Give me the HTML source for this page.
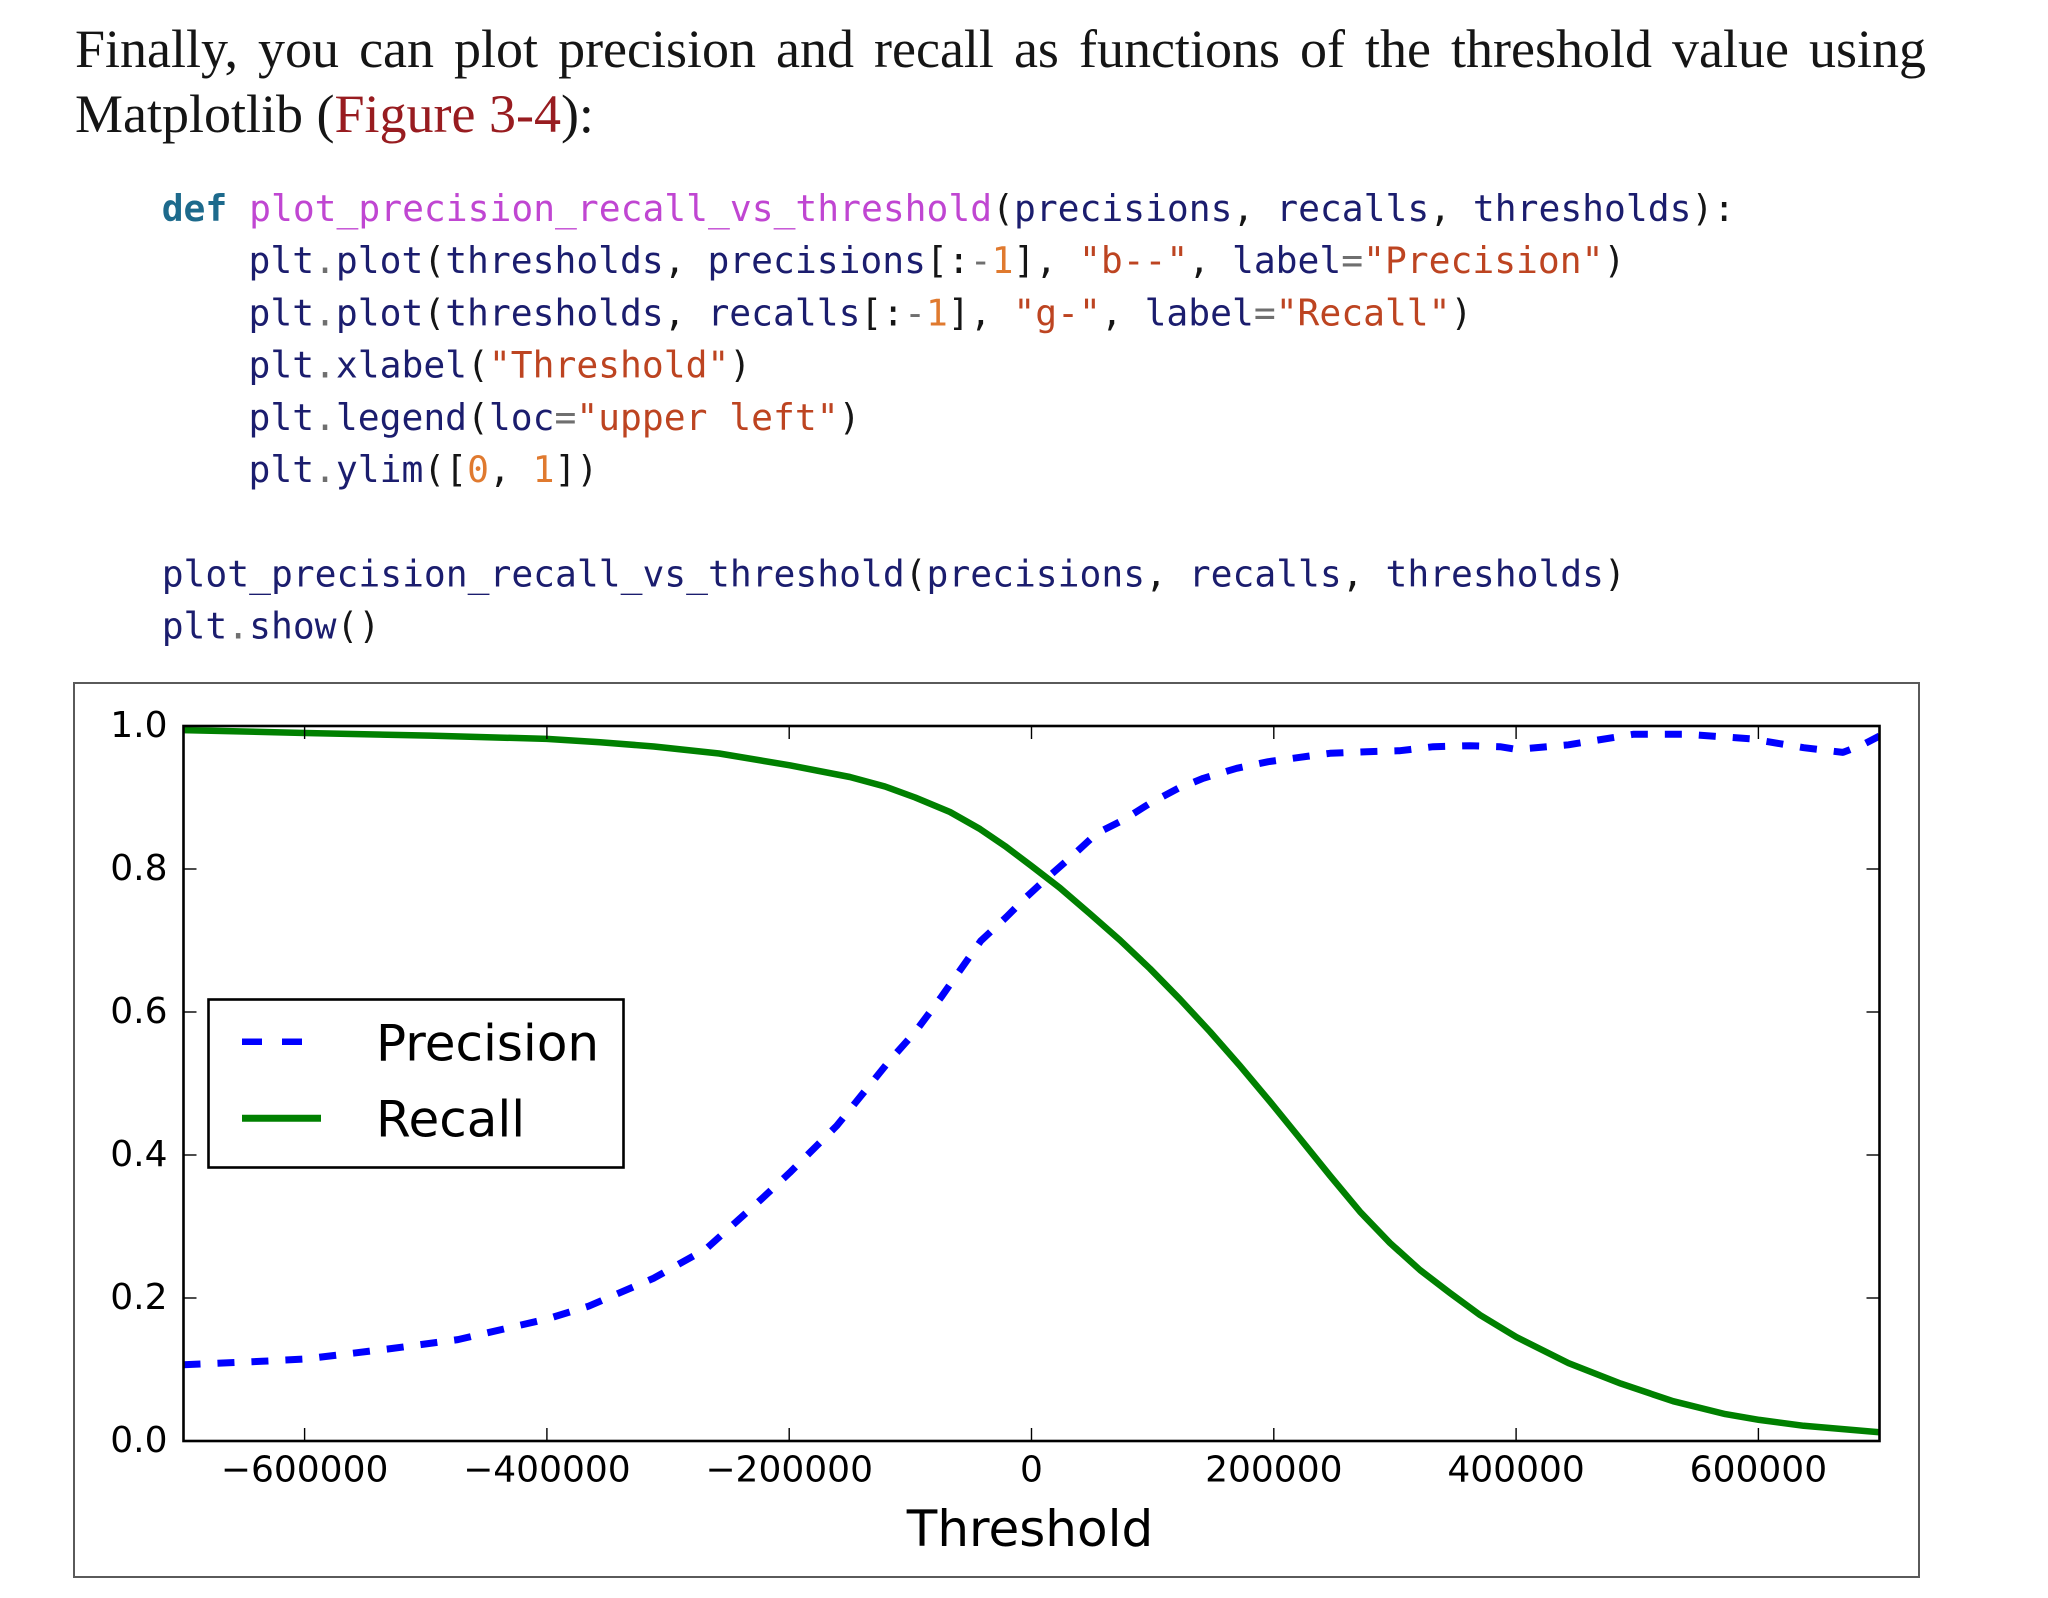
<!DOCTYPE html>
<html>
<head>
<meta charset="utf-8">
<style>
  html, body { margin:0; padding:0; background:#fff; }
  body { width:2048px; height:1598px; position:relative; overflow:hidden; }
  .prose { position:absolute; left:75px; font-family:"Liberation Serif", serif; font-size:54px; line-height:65px; color:#151515; }
  #l1 { top:17px; width:1851px; text-align:justify; text-align-last:justify; }
  #l2 { top:82px; }
  .red { color:#981c20; }
  svg { position:absolute; left:0; top:0; }
  .code { font-family:"DejaVu Sans Mono", "Liberation Mono", monospace; font-size:36.3px; white-space:pre; }
  .k { fill:#1d6a8c; font-weight:bold; }
  .f { fill:#c046d2; }
  .n { fill:#1b1d6e; }
  .p { fill:#151515; }
  .d { fill:#6f6f6f; }
  .s { fill:#bd4421; }
  .u { fill:#e07a2f; }
  .tick { font-family:"DejaVu Sans", sans-serif; font-size:36px; fill:#000; }
  .leg { font-family:"DejaVu Sans", sans-serif; font-size:50px; fill:#000; }
</style>
</head>
<body>
<div class="prose" id="l1">Finally, you can plot precision and recall as functions of the threshold value using</div>
<div class="prose" id="l2">Matplotlib (<span class="red">Figure 3-4</span>):</div>

<svg width="2048" height="1598" viewBox="0 0 2048 1598" xmlns="http://www.w3.org/2000/svg">
  <!-- code -->
  <text class="code" x="161.7" y="221"><tspan class="k">def</tspan><tspan class="p"> </tspan><tspan class="f">plot_precision_recall_vs_threshold</tspan><tspan class="p">(</tspan><tspan class="n">precisions</tspan><tspan class="p">, </tspan><tspan class="n">recalls</tspan><tspan class="p">, </tspan><tspan class="n">thresholds</tspan><tspan class="p">):</tspan></text>
  <text class="code" x="248.5" y="273.2"><tspan class="n">plt</tspan><tspan class="d">.</tspan><tspan class="n">plot</tspan><tspan class="p">(</tspan><tspan class="n">thresholds</tspan><tspan class="p">, </tspan><tspan class="n">precisions</tspan><tspan class="p">[:</tspan><tspan class="d">-</tspan><tspan class="u">1</tspan><tspan class="p">], </tspan><tspan class="s">"b--"</tspan><tspan class="p">, </tspan><tspan class="n">label</tspan><tspan class="d">=</tspan><tspan class="s">"Precision"</tspan><tspan class="p">)</tspan></text>
  <text class="code" x="248.5" y="325.4"><tspan class="n">plt</tspan><tspan class="d">.</tspan><tspan class="n">plot</tspan><tspan class="p">(</tspan><tspan class="n">thresholds</tspan><tspan class="p">, </tspan><tspan class="n">recalls</tspan><tspan class="p">[:</tspan><tspan class="d">-</tspan><tspan class="u">1</tspan><tspan class="p">], </tspan><tspan class="s">"g-"</tspan><tspan class="p">, </tspan><tspan class="n">label</tspan><tspan class="d">=</tspan><tspan class="s">"Recall"</tspan><tspan class="p">)</tspan></text>
  <text class="code" x="248.5" y="377.6"><tspan class="n">plt</tspan><tspan class="d">.</tspan><tspan class="n">xlabel</tspan><tspan class="p">(</tspan><tspan class="s">"Threshold"</tspan><tspan class="p">)</tspan></text>
  <text class="code" x="248.5" y="429.8"><tspan class="n">plt</tspan><tspan class="d">.</tspan><tspan class="n">legend</tspan><tspan class="p">(</tspan><tspan class="n">loc</tspan><tspan class="d">=</tspan><tspan class="s">"upper left"</tspan><tspan class="p">)</tspan></text>
  <text class="code" x="248.5" y="482"><tspan class="n">plt</tspan><tspan class="d">.</tspan><tspan class="n">ylim</tspan><tspan class="p">([</tspan><tspan class="u">0</tspan><tspan class="p">, </tspan><tspan class="u">1</tspan><tspan class="p">])</tspan></text>
  <text class="code" x="161.7" y="586.4"><tspan class="n">plot_precision_recall_vs_threshold</tspan><tspan class="p">(</tspan><tspan class="n">precisions</tspan><tspan class="p">, </tspan><tspan class="n">recalls</tspan><tspan class="p">, </tspan><tspan class="n">thresholds</tspan><tspan class="p">)</tspan></text>
  <text class="code" x="161.7" y="638.6"><tspan class="n">plt</tspan><tspan class="d">.</tspan><tspan class="n">show</tspan><tspan class="p">()</tspan></text>

  <!-- figure frame -->
  <rect x="74" y="683" width="1845" height="894" fill="#fff" stroke="#5a5a5a" stroke-width="2"/>

  <defs>
    <clipPath id="ax">
      <rect x="183.5" y="726" width="1696" height="715"/>
    </clipPath>
  </defs>

  <g clip-path="url(#ax)" fill="none" stroke-linejoin="round">
    <!-- Recall -->
    <polyline stroke="#008000" stroke-width="6.5" points="
      183.5,730.1 305.0,733.0 430,735.6 546.7,738.9 600,742.2 653.9,746.5 719.2,753.5 789.8,765.3 849.9,777.0
      885,786.5 915.2,797.5 950,812 980,829 1005,846 1031.5,866 1060,888 1090,913.8
      1120,940.2 1150,968.7 1180,999.3 1210,1031.7 1240,1065.9 1270,1101.6 1300,1138.5
      1330,1175.7 1360,1211.7 1390,1243 1420,1270 1450,1293 1480,1315 1516.3,1337
      1568.5,1363.1 1620.8,1383.6 1673.1,1401.2 1725.3,1414.1 1759.3,1419.9 1803.7,1425.8 1879.5,1432.2"/>
    <!-- Precision -->
    <polyline stroke="#0000ff" stroke-width="7" stroke-dasharray="17 17" stroke-linecap="butt" points="
      183.5,1364.8 261.9,1361.3 305.0,1359.0 392.6,1348.4 457.9,1339.6 546.7,1319.1 588.6,1306.2
      653.9,1278.1 706.2,1248.8 758.4,1201.9 789.8,1172.6 836.8,1125.7 889.1,1061.2 915.2,1031.9
      941.4,996.8 980.6,941.1 1006.7,916.7 1026.7,896.7 1046.7,878.3 1073.3,855 1096.7,833.3
      1123.3,820 1150,803.3 1178.3,788.3 1203.3,778.3 1236.7,768.3 1268.3,761.7 1300,757.3
      1330,753.3 1366.7,751.7 1400,750.7 1433.3,746.7 1470,745.7 1500,746.7 1516.3,749.4
      1568.5,744.8 1633.8,734.2 1686.1,734.2 1751.5,738.9 1803.7,747.7 1842.9,752.4
      1862.5,744.8 1879.5,736.0"/>
  </g>

  <!-- ticks -->
  <g stroke="#000" stroke-width="1.4">
    <line x1="304.6" y1="726" x2="304.6" y2="739"/><line x1="304.6" y1="1441" x2="304.6" y2="1428"/>
    <line x1="546.9" y1="726" x2="546.9" y2="739"/><line x1="546.9" y1="1441" x2="546.9" y2="1428"/>
    <line x1="789.2" y1="726" x2="789.2" y2="739"/><line x1="789.2" y1="1441" x2="789.2" y2="1428"/>
    <line x1="1031.5" y1="726" x2="1031.5" y2="739"/><line x1="1031.5" y1="1441" x2="1031.5" y2="1428"/>
    <line x1="1273.8" y1="726" x2="1273.8" y2="739"/><line x1="1273.8" y1="1441" x2="1273.8" y2="1428"/>
    <line x1="1516.1" y1="726" x2="1516.1" y2="739"/><line x1="1516.1" y1="1441" x2="1516.1" y2="1428"/>
    <line x1="1758.4" y1="726" x2="1758.4" y2="739"/><line x1="1758.4" y1="1441" x2="1758.4" y2="1428"/>
    <line x1="183.5" y1="1298" x2="196.5" y2="1298"/><line x1="1879.5" y1="1298" x2="1866.5" y2="1298"/>
    <line x1="183.5" y1="1155" x2="196.5" y2="1155"/><line x1="1879.5" y1="1155" x2="1866.5" y2="1155"/>
    <line x1="183.5" y1="1012" x2="196.5" y2="1012"/><line x1="1879.5" y1="1012" x2="1866.5" y2="1012"/>
    <line x1="183.5" y1="869" x2="196.5" y2="869"/><line x1="1879.5" y1="869" x2="1866.5" y2="869"/>
  </g>

  <!-- spines -->
  <rect x="183.5" y="726" width="1696" height="715" fill="none" stroke="#000" stroke-width="2.6"/>

  <!-- y tick labels -->
  <g class="tick" text-anchor="end">
    <text x="167.5" y="737">1.0</text>
    <text x="167.5" y="880">0.8</text>
    <text x="167.5" y="1023">0.6</text>
    <text x="167.5" y="1166">0.4</text>
    <text x="167.5" y="1309">0.2</text>
    <text x="167.5" y="1452">0.0</text>
  </g>

  <!-- x tick labels -->
  <g class="tick" text-anchor="middle">
    <text x="304.6" y="1481.7">−600000</text>
    <text x="546.9" y="1481.7">−400000</text>
    <text x="789.2" y="1481.7">−200000</text>
    <text x="1031.5" y="1481.7">0</text>
    <text x="1273.8" y="1481.7">200000</text>
    <text x="1516.1" y="1481.7">400000</text>
    <text x="1758.4" y="1481.7">600000</text>
  </g>

  <!-- x label -->
  <text class="leg" x="1030" y="1546" text-anchor="middle">Threshold</text>

  <!-- legend -->
  <rect x="208.5" y="999.5" width="415" height="168" fill="#fff" stroke="#000" stroke-width="2.6"/>
  <line x1="242" y1="1041.7" x2="321" y2="1041.7" stroke="#0000ff" stroke-width="6.5" stroke-dasharray="20 20"/>
  <line x1="242" y1="1118.3" x2="321" y2="1118.3" stroke="#008000" stroke-width="7"/>
  <text class="leg" x="376" y="1060.7">Precision</text>
  <text class="leg" x="376" y="1136.7">Recall</text>
</svg>
</body>
</html>
